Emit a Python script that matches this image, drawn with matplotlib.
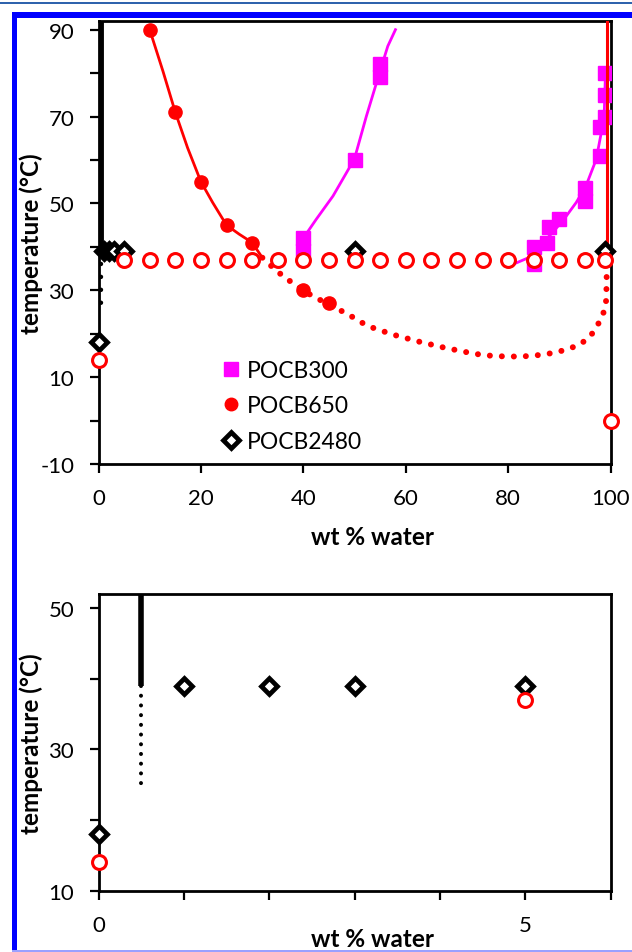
import numpy as np
import matplotlib
matplotlib.use('Agg')
import matplotlib.pyplot as plt
from matplotlib.patches import Rectangle
from matplotlib.lines import Line2D

plt.rcParams['font.family'] = ['Lato', 'DejaVu Sans']
plt.rcParams['axes.unicode_minus'] = False

# ---------------- data ----------------
# POCB300 (magenta squares) and its boundary curves
pocb300_x = [40, 40, 50, 55, 55, 85, 85, 87.5, 88, 90, 95, 95, 98, 98, 99, 99, 99]
pocb300_T = [39, 42, 60, 79, 82, 36, 40, 41, 44.5, 46.5, 50.5, 53.5, 61, 67.5, 70, 75, 80]
pocb300_fit_left_x = [40, 42.5, 45.8, 48.4, 50, 52.3, 55, 56.5, 58]
pocb300_fit_left_T = [42, 46.3, 51.7, 57, 60.3, 70, 80.5, 86.2, 90]
pocb300_fit_right_x = [80, 84, 86, 88.7, 91, 93.3, 95.2, 97.2, 98.2, 98.8, 99]
pocb300_fit_right_T = [35.5, 37.5, 40, 43.3, 46.5, 50.2, 54, 60.1, 66.3, 71.6, 79.3]

# POCB650 (red filled circles) and its boundary curves
pocb650_x = [10, 15, 20, 25, 30, 40, 45]
pocb650_T = [90, 71, 55, 45, 41, 30, 27]
pocb650_fit_x = [10, 12.6, 15, 17.4, 20, 22.3, 25, 27.5, 30, 32]
pocb650_fit_T = [90, 80.4, 71, 62.8, 55, 50.2, 45, 42.9, 41, 37.5]
pocb650_dot_x = [32, 34, 36, 38, 40, 42, 45, 48, 50, 52.5, 55, 57.5, 60, 62.5, 65,
                 67.5, 70, 72.5, 75, 77.5, 80, 82.5, 85, 87.5, 90, 92, 94, 96, 97.3,
                 98.4, 99.1, 99.2, 99.3]
pocb650_dot_T = [37.5, 35.3, 33.3, 31.6, 30, 28.5, 26.8, 24.9, 23.6, 21.8, 20.8, 19.8,
                 19, 18.2, 17.5, 16.8, 16.2, 15.6, 15.1, 14.85, 14.75, 14.75, 14.95,
                 15.3, 15.9, 16.6, 17.5, 19.3, 21.6, 24, 26.6, 30, 37]
pocb650_edge_x = [99.3, 99.3]
pocb650_edge_T = [37, 92]

# POCB650 open circles
pocb650_open_x = [0, 5, 10, 15, 20, 25, 30, 35, 40, 45, 50, 55, 60, 65, 70, 75, 80,
                  85, 90, 95, 99, 100]
pocb650_open_T = [14, 37, 37, 37, 37, 37, 37, 37, 37, 37, 37, 37, 37, 37, 37, 37, 37,
                  37, 37, 37, 37, 0]

# POCB2480 (open diamonds) and its boundary
pocb2480_x = [0, 1, 2, 3, 5, 50, 99]
pocb2480_T = [18, 39, 39, 39, 39, 39, 39]
pocb2480_edge_x = [0.5, 0.5]
pocb2480_solid_T = [39, 92]
pocb2480_dot_T = [39, 25]

# axis ticks
top_xticks = [0, 20, 40, 60, 80, 100]
top_yticks = [-10, 10, 30, 50, 70, 90]
top_yminor = [0, 20, 40, 60, 80]
bot_xticks = [0, 5]
bot_xminor = [1, 2, 3, 4, 6]
bot_yticks = [10, 30, 50]
bot_yminor = [20, 40]

MAG = '#FF00FF'
RED = '#FF0000'

W, H = 632, 953
fig = plt.figure(figsize=(W / 100, H / 100), dpi=100)

def px_axes(l, t, r, b):
    return [l / W, 1 - b / H, (r - l) / W, (b - t) / H]

ax1 = fig.add_axes(px_axes(98.5, 22, 610.5, 465))
ax2 = fig.add_axes(px_axes(98.5, 595, 610.5, 891.7))


def style(ax, xt, xm, yt, ym):
    ax.set_xticks(xt)
    ax.set_xticks(xm, minor=True)
    ax.set_yticks(yt)
    ax.set_yticks(ym, minor=True)
    ax.tick_params(which='both', direction='out', length=6.5, width=1.6,
                   labelsize=16, pad=11, color='black')
    for s in ax.spines.values():
        s.set_linewidth(2.0)
        s.set_color('black')


# ---- top panel ----
ax = ax1
ax.plot(pocb300_fit_left_x, pocb300_fit_left_T, color=MAG, lw=2, zorder=2)
ax.plot(pocb300_fit_right_x, pocb300_fit_right_T, color=MAG, lw=2, zorder=2)
ax.plot(pocb300_x, pocb300_T, 's', color=MAG, ms=10, mec=MAG, zorder=3)
ax.plot(pocb650_fit_x, pocb650_fit_T, color=RED, lw=2, zorder=3)
ax.plot(pocb650_dot_x, pocb650_dot_T, color=RED, lw=4.3, ls=(0, (0.01, 2.0)),
        dash_capstyle='round', zorder=3)
ax.plot(pocb650_edge_x, pocb650_edge_T, color=RED, lw=2.2, zorder=3)
ax.plot(pocb650_x, pocb650_T, 'o', color=RED, ms=9.5, zorder=4)
ax.plot(pocb2480_edge_x, pocb2480_solid_T, color='black', lw=3.5, zorder=4,
        solid_capstyle='butt')
ax.plot(pocb2480_edge_x, pocb2480_dot_T, color='black', lw=3.2, ls=(0, (0.01, 2.9)),
        dash_capstyle='round', zorder=4)
ax.plot(pocb2480_x, pocb2480_T, 'D', ms=8.5, mfc='white', mec='black', mew=3.4,
        zorder=5, clip_on=False)
ax.plot(pocb650_open_x, pocb650_open_T, 'o', ms=10, mfc='white', mec=RED, mew=2.2,
        zorder=6, clip_on=False)
ax.set_xlim(0, 100)
ax.set_ylim(-10, 92)
style(ax, top_xticks, [], top_yticks, top_yminor)
ax.text(0.535, -0.1806, 'wt % water', transform=ax.transAxes, ha='center',
        va='baseline', fontsize=17.5, fontweight='bold')
ax.text(-0.1318, 0.5, 'temperature (°C)', transform=ax.transAxes, ha='center',
        va='center', rotation=90, fontsize=17.5, fontweight='bold')

handles = [
    Line2D([], [], ls='none', marker='s', ms=10, color=MAG, mec=MAG),
    Line2D([], [], ls='none', marker='o', ms=9, color=RED),
    Line2D([], [], ls='none', marker='D', ms=8.5, mfc='white', mec='black', mew=3.4),
]
leg = ax.legend(handles, ['POCB300', 'POCB650', 'POCB2480'], loc='upper left',
                bbox_to_anchor=(0.241, 0.2345), frameon=False, fontsize=16.5,
                handlelength=0.8, handletextpad=0.3, borderpad=0,
                borderaxespad=0, labelspacing=0.62)
leg.set_zorder(10)

# ---- bottom panel ----
ax = ax2
bx = np.array(pocb2480_x, dtype=float)
bT = np.array(pocb2480_T, dtype=float)
ox = np.array(pocb650_open_x, dtype=float)
oT = np.array(pocb650_open_T, dtype=float)
m1 = bx <= 6
m2 = ox <= 6
ax.plot(pocb2480_edge_x, pocb2480_solid_T, color='black', lw=4, zorder=4,
        solid_capstyle='butt')
ax.plot(pocb2480_edge_x, pocb2480_dot_T, color='black', lw=2.9, ls=(0, (0.01, 2.4)),
        dash_capstyle='round', zorder=4)
ax.plot(bx[m1], bT[m1], 'D', ms=8.5, mfc='white', mec='black', mew=3.4,
        zorder=5, clip_on=False)
ax.plot(ox[m2], oT[m2], 'o', ms=10, mfc='white', mec=RED, mew=2.2,
        zorder=6, clip_on=False)
ax.set_xlim(0, 6)
ax.set_ylim(10, 52)
style(ax, bot_xticks, bot_xminor, bot_yticks, bot_yminor)
ax.text(0.535, -0.186, 'wt % water', transform=ax.transAxes, ha='center',
        va='baseline', fontsize=17.5, fontweight='bold')
ax.text(-0.1318, 0.5, 'temperature (°C)', transform=ax.transAxes, ha='center',
        va='center', rotation=90, fontsize=17.5, fontweight='bold')

# ---- decorative frame ----
def px_rect(x0, y0, x1, y1, color):
    fig.add_artist(Rectangle((x0 / W, 1 - y1 / H), (x1 - x0) / W, (y1 - y0) / H,
                             transform=fig.transFigure, color=color, lw=0, zorder=0))

px_rect(0, 2.5, W, 4.5, '#2f63ad')
px_rect(11.5, 13, W, 18.5, '#0000FF')
px_rect(11.5, 13, 17, H, '#0000FF')
px_rect(11.5, 950.5, W, H, '#9aa0ff')

fig.savefig('out.png', dpi=100)
